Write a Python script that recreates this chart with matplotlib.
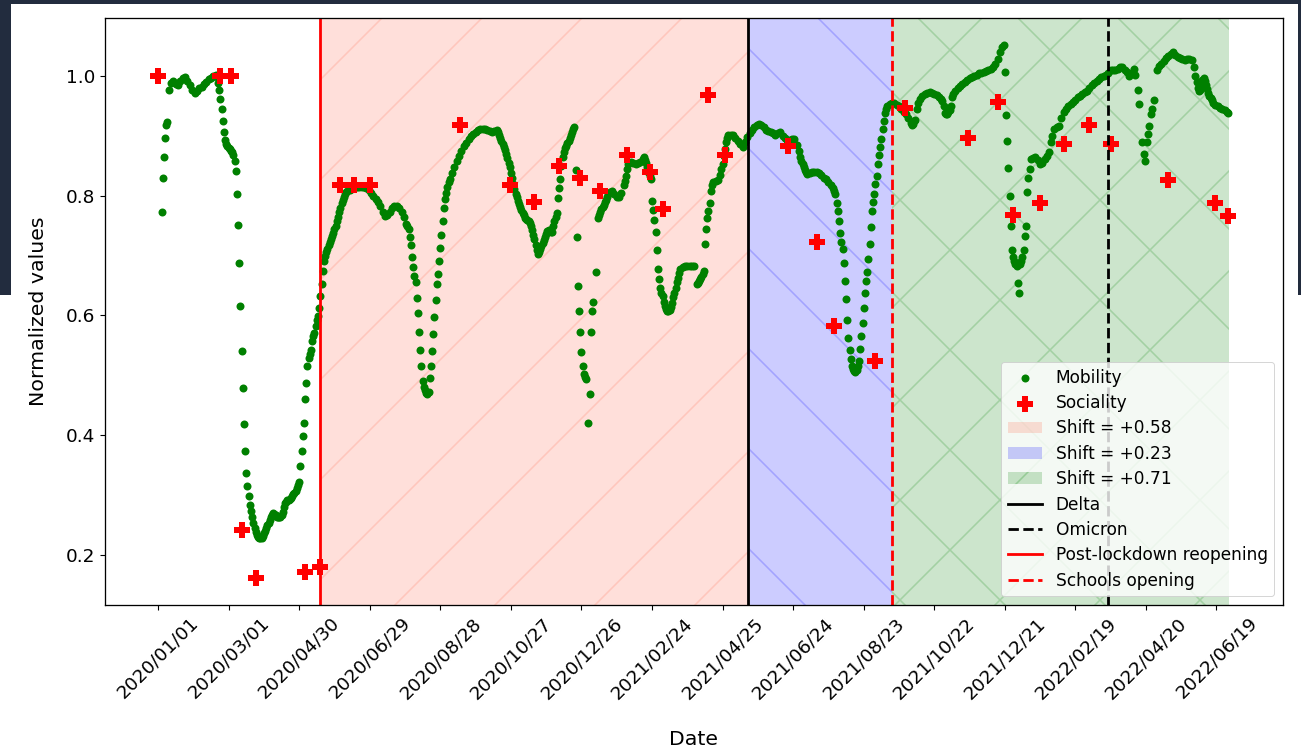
import numpy as np
import pandas as pd
import matplotlib
matplotlib.use("Agg")
import matplotlib.pyplot as plt
from matplotlib.patches import Rectangle

# the figure is laid out in pixels at 300 dpi, sizes below are converted to points
DPI = 300
W, H = 1301, 750


def pt(px):
    return px * 72.0 / DPI


start = pd.Timestamp("2020-01-01")

# mobility: day offset from 2020-01-01 and normalized value
mobility_day = [
    3, 4, 5, 6, 7, 8, 9, 11, 13, 15, 17, 19, 21, 23, 25, 27, 29, 31, 33, 35,
    37, 39, 41, 43, 45, 47, 49, 50,
    51, 52, 53, 54, 55, 56, 57, 58, 59, 60,
    61, 62, 63, 64, 65, 66, 67, 68, 69, 70,
    71, 72, 73, 74, 75, 76, 77, 78, 79, 80,
    81, 82, 83, 84, 85, 86, 87, 88, 89, 90,
    91, 92, 93, 94, 95, 96, 97, 98, 99, 100,
    101, 102, 103, 104, 105, 106, 107, 108, 109, 110,
    111, 112, 113, 114, 115, 116, 117, 118, 119, 120,
    121, 122, 123, 124, 125, 126, 127, 128, 129, 130,
    131, 132, 133, 134, 135, 136, 137, 138, 139, 140,
    141, 142, 143, 144, 145, 146, 147, 148, 149, 150,
    151, 152, 153, 154, 155, 156, 157, 158, 159, 160,
    161, 163, 165, 167, 169, 171, 173, 175, 177, 179,
    181, 183, 185, 187, 189, 191, 193, 195, 197, 199,
    201, 203, 205, 207, 209, 211, 212,
    213, 214, 215, 216, 217, 218, 219, 220, 221, 222,
    223, 224, 225, 226, 227, 228, 229, 230, 231, 232,
    233, 234, 235, 236, 237, 238, 239, 240, 241, 242,
    243, 244, 245, 246, 247, 248, 250, 252, 254, 256,
    258, 260, 262, 264, 266, 268, 270, 272, 274, 276,
    278, 280, 282, 284, 286, 288, 289, 290, 291, 292,
    293, 294, 295, 296, 297, 298, 299, 300, 301, 302,
    303, 304, 305, 306, 307, 308, 309, 310, 311, 312,
    313, 314, 315, 316, 317, 318, 319, 320, 321, 322,
    323, 324, 325, 326, 327, 328, 329, 330, 331, 332,
    333, 334, 335, 336, 337, 338, 339, 340, 341, 342,
    343, 344, 345, 346, 347, 348, 349, 350, 351, 352,
    353, 354,
    355, 356, 357, 358, 359, 360, 361, 362, 363, 364,
    366, 367, 368, 369, 370, 372, 374, 375, 376, 377,
    378, 379, 380, 381, 382, 383, 384, 386, 388, 390,
    392, 394, 396, 397, 398, 399, 400, 402, 404, 406,
    408, 410, 412, 413, 414, 415, 416, 417, 418, 419,
    420, 421, 422, 423, 424, 425, 426, 427, 428, 429,
    430, 431, 432, 433, 434, 435, 436, 437, 438, 439,
    440, 441, 442, 443, 444, 446, 448, 450, 452, 454,
    456, 458, 459, 460, 461, 462, 463, 464, 465, 466,
    467, 468, 469, 470, 471, 472, 474, 476, 478, 479,
    480, 481, 482, 483, 484, 485, 487, 489, 491, 493,
    495, 497, 499, 501, 503, 505, 507, 509, 511, 513,
    515, 517, 519, 521, 523, 525, 527, 529, 531, 533,
    535, 537, 539, 541, 543, 545, 546, 547, 548, 549,
    550, 551, 552, 554, 556, 558, 560, 562, 564, 566,
    568, 570, 572, 574, 575,
    576, 577, 578, 579, 580, 581, 582, 583, 584, 585,
    586, 587, 588, 589, 590, 591, 592, 593, 594, 595,
    596, 597, 598, 599, 600, 601, 602, 603, 604, 605,
    606, 607, 608, 609, 610, 611, 612, 613, 614, 615,
    616, 617, 618, 619, 620, 622, 624, 626, 628, 630,
    632, 634, 636, 638, 640, 641, 642, 643, 644, 645,
    646, 648, 650, 652, 654, 656, 658, 660, 662, 664,
    666, 667, 668, 669, 670, 671, 672, 673, 674, 675,
    676, 678, 680, 682, 684, 686, 688, 690, 692, 694,
    696, 698, 700, 702, 704, 706, 708, 710, 712, 714,
    716, 718, 719,
    720, 721, 722, 723, 724, 725, 726, 727, 728, 729,
    730, 731, 732, 733, 734, 735, 736, 737, 738, 739,
    740, 741, 742, 744, 746, 748, 750, 752, 754, 756,
    758, 759, 760, 762, 764, 766, 768, 770, 772, 774,
    776, 778, 780, 782, 784, 786, 788, 790, 792, 794,
    796, 798, 800, 802, 804, 806, 808, 810, 812, 814,
    816, 818, 820, 822, 824, 826, 828, 830, 831, 833,
    834, 837, 838, 839, 841, 842, 843, 844, 845, 847,
    849, 851, 853, 855, 857, 859, 861, 863, 865, 867,
    869, 871, 873, 875, 877, 879, 881, 882, 883, 884,
    885, 886, 887, 888, 889, 890, 891, 892, 893, 894,
    895, 896, 897, 899, 901, 903, 905, 907, 909, 910,
]
mobility = [
    .772, .829, .864, .897, .918, .923, .977, .988, .991, .987, .984, .991, .997, .998, .991, .984, .977, .972, .975, .979,
    .982, .986, .990, .994, .997, 1.0, 1.002, .998,
    .988, .976, .962, .944, .924, .907, .893, .886, .882, .880,
    .878, .875, .872, .867, .858, .841, .802, .751, .688, .616,
    .540, .479, .419, .373, .337, .315, .298, .284, .273, .264,
    .254, .245, .238, .233, .230, .228, .228, .229, .232, .236,
    .240, .245, .250, .254, .258, .263, .267, .270, .269, .266,
    .264, .263, .263, .264, .266, .272, .280, .287, .289, .291,
    .292, .294, .295, .298, .301, .304, .306, .312, .316, .321,
    .348, .373, .398, .421, .461, .487, .515, .529, .536, .543,
    .557, .565, .571, .582, .592, .599, .613, .632, .652, .674,
    .691, .700, .706, .711, .717, .722, .727, .732, .738, .744,
    .750, .757, .765, .773, .780, .787, .793, .798, .802, .806,
    .808, .810, .812, .813, .814, .815, .815, .814, .812, .809,
    .805, .800, .795, .790, .782, .773, .766, .767, .773, .780,
    .783, .782, .779, .773, .764, .753, .750,
    .745, .731, .717, .697, .680, .666, .655, .629, .604, .573,
    .542, .516, .490, .480, .476, .470, .468, .472, .496, .516,
    .541, .569, .598, .626, .652, .669, .690, .712, .734, .758,
    .780, .794, .805, .815, .822, .828, .838, .848, .857, .866,
    .875, .882, .888, .894, .899, .903, .907, .909, .911, .912,
    .912, .910, .908, .907, .908, .909, .906, .902, .897, .892,
    .887, .881, .876, .869, .862, .855, .847, .838, .829, .820,
    .811, .803, .797, .791, .786, .781, .776, .771, .767, .763,
    .761, .759, .757, .755, .750, .743, .735, .727, .718, .710,
    .703, .706, .711, .716, .721, .726, .731, .736, .741, .743,
    .742, .740, .740, .749, .757, .764, .771, .796, .813, .827,
    .850, .864, .872, .879, .883, .888, .892, .897, .902, .906,
    .911, .915,
    .842, .731, .649, .607, .573, .539, .516, .502, .497, .493,
    .420, .468, .573, .607, .623, .673, .762, .768, .773, .777,
    .781, .785, .789, .793, .798, .803, .806, .808, .803, .797,
    .798, .804, .817, .825, .833, .845, .853, .856, .855, .853,
    .854, .856, .861, .864, .860, .854, .847, .840, .833, .827,
    .791, .776, .759, .740, .710, .677, .660, .646, .638, .632,
    .623, .615, .611, .608, .607, .609, .614, .621, .630, .638,
    .646, .655, .663, .670, .677, .681, .683, .683, .682, .682,
    .683, .652, .654, .657, .660, .664, .669, .674, .720, .745,
    .762, .774, .788, .808, .818, .822, .824, .826, .834, .845,
    .853, .866, .878, .889, .897, .901, .902, .901, .897, .892,
    .886, .881, .890, .898, .904, .910, .915, .918, .919, .918,
    .914, .909, .908, .907, .904, .901, .905, .907, .900, .896,
    .893, .893, .894, .895, .885, .875, .864, .858, .852, .847,
    .843, .839, .836, .838, .840, .840, .839, .837, .834, .830,
    .827, .823, .818, .812, .807,
    .802, .788, .774, .758, .737, .723, .711, .688, .657, .627,
    .593, .563, .542, .527, .516, .510, .507, .505, .508, .515,
    .524, .544, .565, .588, .612, .638, .657, .672, .694, .720,
    .748, .774, .790, .802, .819, .833, .853, .867, .881, .895,
    .912, .924, .938, .944, .949, .953, .955, .955, .952, .949,
    .945, .940, .936, .930, .922, .918, .920, .924, .927, .945,
    .955, .962, .967, .970, .972, .973, .972, .970, .968, .965,
    .962, .958, .950, .938, .936, .937, .940, .943, .950, .965,
    .970, .975, .980, .983, .986, .989, .993, .996, .998, 1.0,
    1.002, 1.004, 1.005, 1.006, 1.008, 1.010, 1.012, 1.015, 1.020, 1.028,
    1.040, 1.048, 1.052,
    1.006, .934, .892, .846, .800, .749, .710, .697, .690, .685,
    .683, .654, .638, .685, .690, .697, .710, .732, .749, .806,
    .830, .844, .861, .862, .864, .860, .853, .855, .861, .866,
    .872, .889, .900, .911, .914, .917, .930, .940, .945, .950,
    .953, .956, .960, .964, .967, .970, .973, .975, .980, .985,
    .988, .992, .995, .998, 1.0, 1.002, 1.005, 1.009, 1.009, 1.009,
    1.012, 1.014, 1.015, 1.010, 1.006, .999, 1.005, 1.012, 1.001, .977,
    .953, .889, .869, .857, .889, .903, .917, .936, .945, .959,
    1.009, 1.016, 1.020, 1.025, 1.029, 1.033, 1.037, 1.039, 1.035, 1.032,
    1.030, 1.028, 1.027, 1.028, 1.028, 1.026, 1.014, 1.0, .989, .980,
    .975, .977, .985, .993, .997, .992, .985, .978, .972, .967,
    .963, .959, .955, .952, .949, .947, .945, .943, .940, .938,
]

# sociality survey points
sociality_day = [0, 53, 62, 71, 83, 125, 138, 155, 167, 180, 257, 299, 320, 341, 359, 376,
                 399, 418, 429, 468, 482, 536, 560, 575, 610, 635, 689, 714, 727, 750, 770,
                 792, 810, 859, 899, 910]
sociality = [1.0, 1.0, 1.0, 0.242, 0.161, 0.172, 0.180, 0.818, 0.818, 0.818, 0.918, 0.818,
             0.789, 0.850, 0.829, 0.808, 0.868, 0.839, 0.777, 0.968, 0.868, 0.883, 0.723,
             0.583, 0.524, 0.946, 0.897, 0.957, 0.767, 0.787, 0.887, 0.918, 0.886, 0.826,
             0.787, 0.766]

# events and shifted periods
reopening = "2020-05-18"
delta = "2021-05-17"
schools = "2021-09-16"
omicron = "2022-03-19"
period_end = "2022-06-30"
shift_labels = ["Shift = +0.58", "Shift = +0.23", "Shift = +0.71"]

assert len(mobility_day) == len(mobility)
assert len(sociality_day) == len(sociality)

mob_dates = start + pd.to_timedelta(mobility_day, unit="D")
soc_dates = start + pd.to_timedelta(sociality_day, unit="D")
tick_dates = pd.date_range(start, periods=16, freq="60D")

plt.rcParams.update({
    "font.family": "DejaVu Sans",
    "font.size": pt(18.5),
    "axes.linewidth": pt(1.3),
    "hatch.linewidth": pt(1.6),
    "xtick.major.size": pt(5),
    "ytick.major.size": pt(5),
    "xtick.major.width": pt(1.1),
    "ytick.major.width": pt(1.1),
    "xtick.major.pad": pt(4),
    "ytick.major.pad": pt(4),
})

fig = plt.figure(figsize=(W / DPI, H / DPI), dpi=DPI)
ax = fig.add_axes([104.5 / W, 145 / H, 1178.5 / W, 587 / H])

mob = ax.scatter(mob_dates, mobility, s=pt(8) ** 2, color="green", linewidths=0,
                 zorder=1.5, label="Mobility")
soc = ax.scatter(soc_dates, sociality, s=pt(15.5) ** 2, marker="P", color="red",
                 linewidths=0, zorder=1.6, label="Sociality")

spans = []
for (a, b), c, h, lab in zip([(reopening, delta), (delta, schools), (schools, period_end)],
                             ["tomato", "blue", "green"], ["/", "\\", "x"], shift_labels):
    spans.append(ax.axvspan(pd.Timestamp(a), pd.Timestamp(b), color=c, alpha=0.2,
                            hatch=h, lw=0, zorder=0.5, label=lab))

lw = pt(2.8)
l1 = ax.axvline(pd.Timestamp(delta), color="black", lw=lw, label="Delta")
l2 = ax.axvline(pd.Timestamp(omicron), color="black", ls="--", lw=lw, label="Omicron")
l3 = ax.axvline(pd.Timestamp(reopening), color="red", lw=lw, label="Post-lockdown reopening")
l4 = ax.axvline(pd.Timestamp(schools), color="red", ls="--", lw=lw, label="Schools opening")

ax.set_xticks(tick_dates)
ax.set_xticklabels([d.strftime("%Y/%m/%d") for d in tick_dates], rotation=45)
ax.set_xlabel("Date", fontsize=pt(20.5), labelpad=pt(28))
ax.set_ylabel("Normalized values", fontsize=pt(20.5), labelpad=pt(18))

leg = ax.legend(handles=[mob, soc] + spans + [l1, l2, l3, l4], loc="lower right",
                fontsize=pt(17.1), labelspacing=0.43, framealpha=0.8)
leg.get_frame().set_linewidth(pt(1))

# dark screen border around the top of the image
border = "#222c3e"
for x0, y0, w, h in [(0, H - 4, W, 4), (0, H - 295, 11, 295), (W - 3, H - 295, 3, 295)]:
    fig.patches.append(Rectangle((x0 / W, y0 / H), w / W, h / H, transform=fig.transFigure,
                                 color=border, lw=0, zorder=10))

fig.savefig("out.png", dpi=DPI)
